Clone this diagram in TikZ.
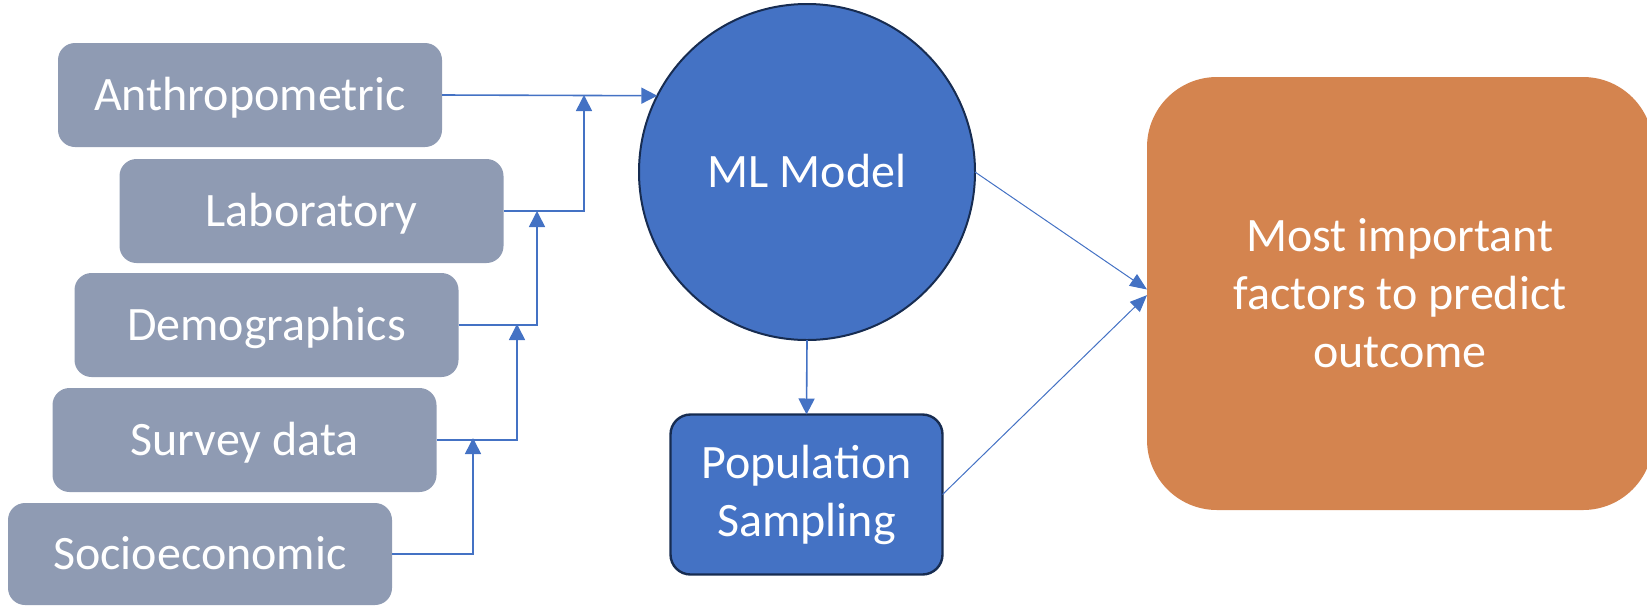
\documentclass[tikz,border=0pt]{standalone}
\usepackage{fontspec}
\setmainfont{Carlito}
\usetikzlibrary{arrows.meta}
\definecolor{graybox}{HTML}{8F9BB3}
\definecolor{mlblue}{HTML}{4472C4}
\definecolor{darkedge}{HTML}{172C51}
\definecolor{orangebox}{HTML}{D4844F}
\definecolor{linkblue}{HTML}{4472C4}
\begin{document}
\begin{tikzpicture}[x=0.5pt,y=-0.5pt,
  every node/.style={inner sep=0pt, outer sep=0pt, text=white,
    font=\fontsize{24}{29}\selectfont, align=center},
  srcbox/.style={fill=graybox, rounded corners=8.5pt, minimum width=192pt,
    minimum height=52pt, text height=18pt, text depth=2.6pt},
  link/.style={draw=linkblue, line width=0.8pt, -{Triangle[length=8pt,width=8pt]}},
  diag/.style={draw=linkblue, line width=0.5pt, -{Triangle[length=8.5pt,width=7pt]}},
]
\useasboundingbox (0,0) rectangle (1647,606);

% source boxes
\node[srcbox] (an)  at (250,95)    {Anthropometric};
\node[srcbox] (lab) at (311.5,211) {Laboratory};
\node[srcbox] (dem) at (266.5,325) {Demographics};
\node[srcbox] (sur) at (244.5,440) {Survey data};
\node[srcbox, minimum height=51pt] (soc) at (200,554) {Socioeconomic};

% junction points on the horizontal lines
\coordinate (j1) at (473,438);
\coordinate (j2) at (517,324);
\coordinate (j3) at (537,211);
\coordinate (j4) at (584,95);

% ML model
\node[circle, fill=mlblue, draw=darkedge, line width=1pt, minimum size=168pt,
  text height=18pt, text depth=2.6pt] (ml) at (807,172) {ML Model};

% population sampling
\node[fill=mlblue, draw=darkedge, line width=1.2pt, rounded corners=10pt,
  minimum width=136pt, minimum height=80pt] (pop) at (806.5,494.5)
  {Population\\Sampling};

% outcome box
\node[fill=orangebox, rounded corners=35pt, minimum width=253pt,
  minimum height=216.5pt] (out) at (1400,293.5)
  {Most important\\factors to predict\\outcome};

% connectors
\draw[link] (soc.east) -| (j1);
\draw[link] (sur.east) -| (j2);
\draw[link] (dem.east) -| (j3);
\draw[link] (lab.east) -| (j4);
\draw[link] (an.east) -- (ml.153);
\draw[link] (ml.south) -- (pop.north);
\draw[diag] (ml.east) -- ([yshift=2pt]out.west);
\draw[diag] (pop.east) -- ([yshift=-0.8pt]out.west);
\end{tikzpicture}
\end{document}
